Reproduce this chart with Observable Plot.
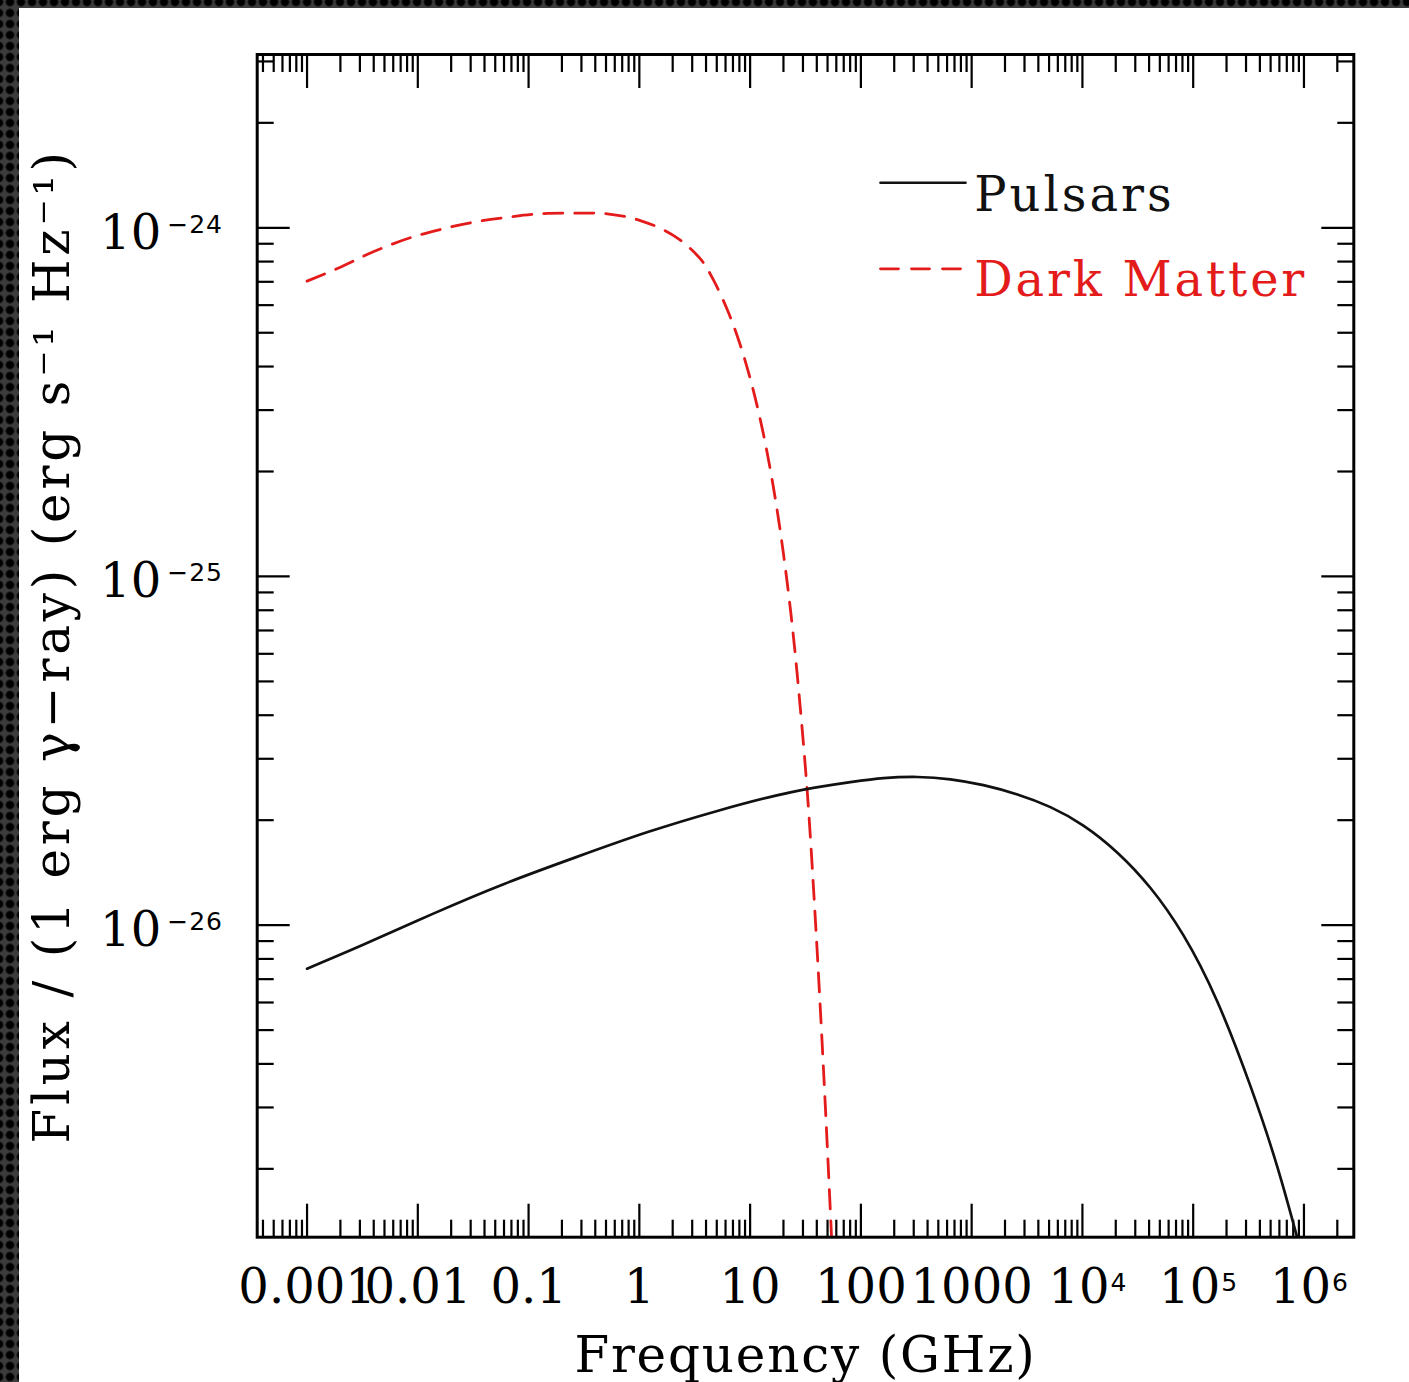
<!DOCTYPE html>
<html><head><meta charset="utf-8">
<script src="https://cdn.jsdelivr.net/npm/d3@7"></script>
<script src="https://cdn.jsdelivr.net/npm/@observablehq/plot@0.6"></script>
<style>
html,body{margin:0;padding:0;}
body{width:1409px;height:1382px;overflow:hidden;position:relative;
  background-color:#3c3c3c;
  background-image:radial-gradient(circle at center,#000 0,#000 3.8px,transparent 4.6px);
  background-size:11px 11px;background-position:4.5px -3.5px;}
#panel{position:absolute;left:19px;top:8px;width:1390px;height:1374px;background:#fff;}
#panel svg{display:block;}
</style></head><body><div id="panel"></div>
<script>
// ---- data ----
const pulsarFreq = [1e-3, 3.13e-3, 1.38e-2, 6.10e-2, 0.269, 1.19, 5.24, 23.1, 80.4, 160, 324, 643, 1277, 2588, 5140, 1.02e4, 2.07e4, 4.10e4, 8.15e4, 1.65e5, 3.27e5, 5.74e5, 8.69e5, 9.25e5];
const pulsarFlux = [7.50e-27, 8.75e-27, 1.079e-26, 1.315e-26, 1.567e-26, 1.849e-26, 2.133e-26, 2.404e-26, 2.57e-26, 2.64e-26, 2.66e-26, 2.62e-26, 2.52e-26, 2.37e-26, 2.18e-26, 1.93e-26, 1.614e-26, 1.28e-26, 9.36e-27, 6.04e-27, 3.47e-27, 2.03e-27, 1.27e-27, 1.18e-27];
const dmFreq = [1e-3, 2.00e-3, 4.01e-3, 8.02e-3, 1.60e-2, 3.20e-2, 6.41e-2, 0.128, 0.256, 0.512, 1.02, 2.04, 3.56, 4.65, 6.28, 7.97, 10.08, 12.44, 14.78, 17.53, 20.27, 23.35, 26.67, 32.69, 38.21, 43.11, 48.13, 53.84, 54.8];
const dmFlux = [7.03e-25, 7.71e-25, 8.55e-25, 9.30e-25, 9.89e-25, 1.038e-24, 1.072e-24, 1.097e-24, 1.101e-24, 1.097e-24, 1.049e-24, 9.50e-25, 8.14e-25, 7.10e-25, 5.78e-25, 4.71e-25, 3.67e-25, 2.79e-25, 2.13e-25, 1.55e-25, 1.125e-25, 7.82e-26, 5.20e-26, 2.45e-26, 1.13e-26, 5.70e-27, 2.88e-27, 1.36e-27, 1.205e-27];

const seriesNames = ["Pulsars", "Dark Matter"];
const seriesColors = ["#111111", "#e41b1b"];

const xPlainTicks = [1e-3, 1e-2, 0.1, 1, 10, 100, 1000];
const xPlainLabels = ["0.001", "0.01", "0.1", "1", "10", "100", "1000"];
const xPowTicks = [1e4, 1e5, 1e6];
const xPowBase = ["10", "10", "10"];
const xPowExp = ["4", "5", "6"];
const yTicks = [1e-26, 1e-25, 1e-24];
const yBase = ["10", "10", "10"];
const yExp = ["\u221226", "\u221225", "\u221224"];

const xTitle = "Frequency (GHz)";
const yTitle = "Flux / (1 erg \u03b3\u2212ray) (erg s\u207b\u00b9 Hz\u207b\u00b9)";

const xDomain = [Math.pow(10, -3.45), Math.pow(10, 6.45)];
const yDomain = [Math.pow(10, -26.895), Math.pow(10, -23.503)];

// ---- build ----
const pulsars = pulsarFreq.map((f, i) => ({f, v: pulsarFlux[i]}));
const dm = dmFreq.map((f, i) => ({f, v: dmFlux[i]}));
function minorTicks(lo, hi) {
  const out = [];
  for (let e = Math.floor(Math.log10(lo)); e <= Math.ceil(Math.log10(hi)); e++)
    for (let m = 2; m <= 9; m++) { const v = m * Math.pow(10, e); if (v >= lo && v <= hi) out.push(v); }
  return out;
}
const xMajor = xPlainTicks.concat(xPowTicks);
const xMinor = minorTicks(xDomain[0], xDomain[1]);
const yMinor = minorTicks(yDomain[0], yDomain[1]);

const serif = "DejaVu Serif";
const sans = "DejaVu Sans";
const lineShape = {draw(context, l) { context.moveTo(0, 0); context.lineTo(0, -l); }};

const tickAxis = (axis, anchor, ticks, size) => axis(ticks, {anchor, tickSize: -size, strokeWidth: 2.2, stroke: "black", fill: "none", label: null});

const chart = Plot.plot({
  width: 1390, height: 1374,
  marginLeft: 237.7, marginRight: 55.7, marginTop: 46, marginBottom: 145.3,
  x: {type: "log", domain: xDomain},
  y: {type: "log", domain: yDomain},
  style: {background: "white", color: "black", fontFamily: serif},
  marks: [
    tickAxis(Plot.axisX, "bottom", xMajor, 33),
    tickAxis(Plot.axisX, "bottom", xMinor, 17),
    tickAxis(Plot.axisX, "top", xMajor, 33),
    tickAxis(Plot.axisX, "top", xMinor, 17),
    tickAxis(Plot.axisY, "left", yTicks, 33),
    tickAxis(Plot.axisY, "left", yMinor, 17),
    tickAxis(Plot.axisY, "right", yTicks, 33),
    tickAxis(Plot.axisY, "right", yMinor, 17),
    // x tick labels
    Plot.text(xPlainTicks, {x: d => d, text: (d, i) => xPlainLabels[i], frameAnchor: "bottom", lineAnchor: "bottom", dy: 66, fontSize: 48, fontFamily: serif, fill: "black"}),
    Plot.text(xPowTicks, {x: d => d, text: (d, i) => xPowBase[i], frameAnchor: "bottom", textAnchor: "end", lineAnchor: "bottom", dx: 27, dy: 66, fontSize: 48, fontFamily: serif, fill: "black"}),
    Plot.text(xPowTicks, {x: d => d, text: (d, i) => xPowExp[i], frameAnchor: "bottom", textAnchor: "start", lineAnchor: "bottom", dx: 28, dy: 54, fontSize: 25, fontFamily: sans, fill: "black"}),
    // y tick labels
    Plot.text(yTicks, {y: d => d, text: (d, i) => yBase[i], frameAnchor: "left", textAnchor: "end", lineAnchor: "bottom", dx: -96, dy: 21, fontSize: 48, fontFamily: serif, fill: "black"}),
    Plot.text(yTicks, {y: d => d, text: (d, i) => yExp[i], frameAnchor: "left", textAnchor: "start", lineAnchor: "bottom", dx: -90, dy: 5, fontSize: 25, fontFamily: sans, fill: "black"}),
    // titles
    Plot.text([xTitle], {text: d => d, frameAnchor: "bottom", textAnchor: "middle", lineAnchor: "bottom", dy: 135, fontSize: 50, fontFamily: serif, fill: "black"}),
    Plot.text([yTitle], {text: d => d, frameAnchor: "left", textAnchor: "middle", rotate: -90, dx: -204, fontSize: 50, fontFamily: serif, fill: "black"}),
    // curves
    Plot.line(dm, {x: "f", y: "v", stroke: seriesColors[1], strokeWidth: 2.8, strokeDasharray: "19,12", curve: "catmull-rom", clip: true}),
    Plot.line(pulsars, {x: "f", y: "v", stroke: seriesColors[0], strokeWidth: 2.7, curve: "natural", clip: true}),
    // legend
    Plot.vector([0], {frameAnchor: "top-left", dx: 623.3, dy: 128.3, rotate: 90, length: 85, anchor: "start", shape: lineShape, stroke: seriesColors[0], strokeWidth: 2.6}),
    Plot.vector([0], {frameAnchor: "top-left", dx: 623.3, dy: 214.3, rotate: 90, length: 82, anchor: "start", shape: lineShape, stroke: seriesColors[1], strokeWidth: 2.8, strokeDasharray: "18,13"}),
    Plot.text([seriesNames[0]], {text: d => d, frameAnchor: "top-left", textAnchor: "start", lineAnchor: "bottom", dx: 717, dy: 156, fontSize: 48, fontFamily: serif, fill: seriesColors[0]}),
    Plot.text([seriesNames[1]], {text: d => d, frameAnchor: "top-left", textAnchor: "start", lineAnchor: "bottom", dx: 717, dy: 241, fontSize: 48, fontFamily: serif, fill: seriesColors[1]}),
    Plot.frame({stroke: "black", strokeWidth: 3})
  ]
});
// letter spacing to match the wide typewriter-like font of the original
const spacing = new Map([[xTitle, "1.8px"], [yTitle, "3.8px"], [seriesNames[0], "3px"], [seriesNames[1], "2.8px"], ["\u221224", "1px"], ["\u221225", "1px"], ["\u221226", "1px"]]);
chart.querySelectorAll("text").forEach(t => { const s = spacing.get(t.textContent); if (s) t.style.letterSpacing = s; });
document.getElementById("panel").appendChild(chart);
</script></body></html>
